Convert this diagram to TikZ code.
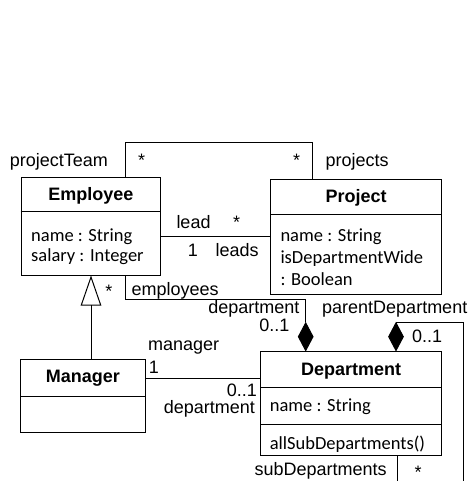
\documentclass[tikz,border=0pt]{standalone}
\usepackage{fontspec}
\setmainfont{Liberation Sans}
\newfontfamily\attrfont{Carlito}
\usetikzlibrary{shapes.geometric,arrows.meta}
\begin{document}
\begin{tikzpicture}[x=1pt,y=-1pt,line width=1pt,
  every node/.style={font=\fontsize{18}{22}\selectfont},
  cls/.style={draw,rectangle,inner sep=0pt,line width=1pt},
  lbl/.style={inner sep=0pt,anchor=base west},
  lblr/.style={inner sep=0pt,anchor=base east},
  lblc/.style={inner sep=0pt,anchor=base},
  ttl/.style={inner sep=0pt,anchor=base,font=\fontsize{18}{22}\selectfont\bfseries},
  attr/.style={inner sep=0pt,anchor=base west,font=\fontsize{18.5}{22}\selectfont\attrfont},
  comp/.style={diamond,draw,fill=black,inner sep=0pt,minimum width=15pt,minimum height=28pt,anchor=south},
  gen/.style={-{Triangle[open,length=30pt,width=20.5pt]}}
]
\useasboundingbox (0,0) rectangle (471,481);

% classes
\node[cls,minimum width=139.7pt,minimum height=97.3pt] (emp) at (90.85,226.35) {};
\draw (emp.west |- 0,211.7) -- (emp.east |- 0,211.7);
\node[ttl] (empT) at (90.85,200) {Employee};
\node[attr] (empA1) at (30.7,241) {name : String};
\node[attr] (empA2) at (30.7,261) {salary : Integer};

\node[cls,minimum width=171pt,minimum height=114.7pt] (proj) at (356.2,236.65) {};
\draw (proj.west |- 0,214.3) -- (proj.east |- 0,214.3);
\node[ttl] (projT) at (356.2,202) {Project};
\node[attr] (projA1) at (280,241) {name : String};
\node[attr] (projA2) at (280,263) {isDepartmentWide};
\node[attr] (projA3) at (280,285) {: Boolean};

\node[cls,minimum width=124.3pt,minimum height=73.4pt] (mgr) at (82.85,396) {};
\draw (mgr.west |- 0,396) -- (mgr.east |- 0,396);
\node[ttl] (mgrT) at (82.85,382.7) {Manager};

\node[cls,minimum width=181pt,minimum height=104pt] (dept) at (351.2,403.7) {};
\draw (dept.west |- 0,387.7) -- (dept.east |- 0,387.7);
\draw (dept.west |- 0,424.3) -- (dept.east |- 0,424.3);
\node[ttl] (deptT) at (351.2,375) {Department};
\node[attr] (deptA1) at (269.3,411.7) {name : String};
\node[attr] (deptO1) at (269.3,449) {allSubDepartments()};

% guide coordinates
\coordinate (a1) at (125.3,142.7);
\coordinate (a2) at (312.3,142.7);
\coordinate (l1) at (0,236.7);
\coordinate (b1) at (125.3,299.3);
\coordinate (b2) at (305.7,299.3);
\coordinate (m1) at (0,378.3);
\coordinate (g1) at (91,0);
\coordinate (p1) at (463.5,481);
\coordinate (s1) at (397,481);

% composition diamonds
\node[comp] (d1) at (dept.north -| b2) {};
\node[comp] (d2) at (dept.north -| 396,0) {};

% connectors
\draw (emp.north -| a1) -- (a1) -- (a2) -- (proj.north -| a2);
\draw (emp.east |- l1) -- (proj.west |- l1);
\draw (emp.south -| b1) -- (b1) -- (b2) -- (d1.north);
\draw (d2.north) -| (p1);
\draw (dept.south -| s1) -- (s1);
\draw (mgr.east |- m1) -- (dept.west |- m1);
\draw[gen] (mgr.north -| g1) -- (emp.south -| g1);

% labels
\node[lbl] (lPT) at (9.3,166.5) {projectTeam};
\node[lblc] (lS1) at (141.7,166.5) {*};
\node[lblc] (lS2) at (296.7,166.5) {*};
\node[lbl] (lPr) at (325,166.5) {projects};
\node[lbl] (lLead) at (176,228.3) {lead};
\node[lblc] (lS3) at (236.7,228.7) {*};
\node[lblc] (l1a) at (193,256.7) {1};
\node[lbl] (lLeads) at (215,256.7) {leads};
\node[lblc] (lS4) at (109,297) {*};
\node[lbl] (lEmp) at (131,295) {employees};
\node[lblr] (lDep1) at (300,313) {department};
\node[lblr] (lZ1) at (290,331) {0..1};
\node[lbl] (lPD) at (321.7,313) {parentDepartment};
\node[lbl] (lZ2) at (411.7,342) {0..1};
\node[lbl] (lMgr) at (147.7,350.7) {manager};
\node[lbl] (l1b) at (148.3,373.3) {1};
\node[lblr] (lZ3) at (257.3,396.7) {0..1};
\node[lblr] (lDep2) at (255.5,413.3) {department};
\node[lbl] (lSD) at (254,475) {subDepartments};
\node[lblc] (lS5) at (418,478.7) {*};
\end{tikzpicture}
\end{document}
